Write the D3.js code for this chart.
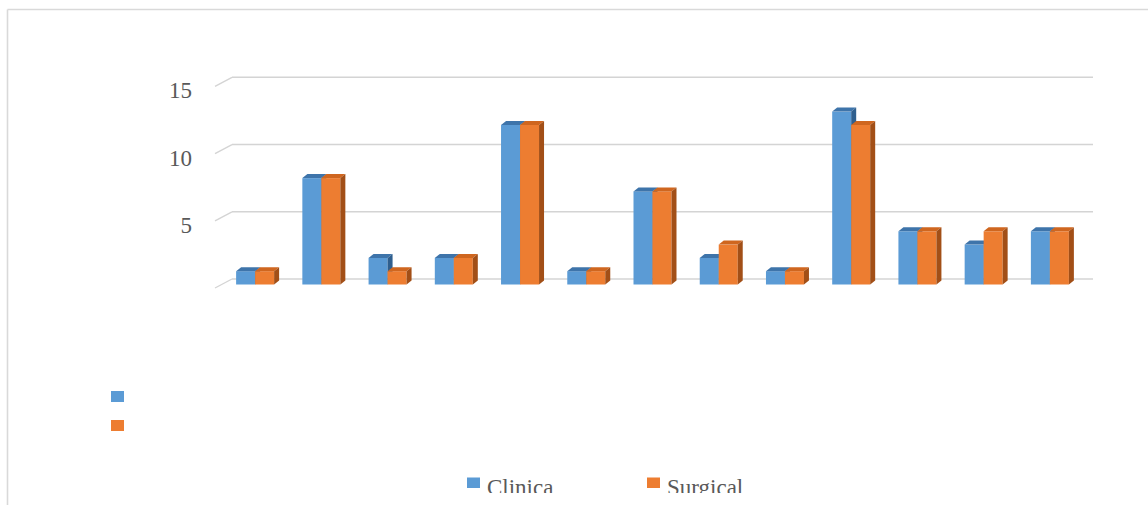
<!DOCTYPE html>
<html>
<head>
<meta charset="utf-8">
<script src="https://cdn.jsdelivr.net/npm/d3@7"></script>
<style>
  html, body { margin: 0; padding: 0; background: #fff; }
  svg { display: block; }
  text { font-family: "Liberation Serif", "Times New Roman", serif; fill: #595959; }
</style>
</head>
<body>
<svg id="chart" width="1148" height="505"></svg>
<script>
// Data
const categories = ["1", "2", "3", "4", "5", "6", "7", "8", "9", "10", "11", "12", "13"];
const seriesNames = ["Clinica", "Surgical"];
const clinica  = [1, 8, 2, 2, 12, 1, 7, 2, 1, 13, 4, 3, 4];
const surgical = [1, 8, 1, 2, 12, 1, 7, 3, 1, 12, 4, 4, 4];
const tickValues = [0, 5, 10, 15];
const tickLabels = ["", "5", "10", "15"];

const colors = {
  Clinica:  { front: "#5B9BD5", top: "#3E74AA", side: "#2F5F8E" },
  Surgical: { front: "#ED7D31", top: "#CF661F", side: "#A24F17" }
};

const svg = d3.select("#chart");

// Outer frame
svg.append("line").attr("x1", 7.5).attr("y1", 9.5).attr("x2", 1148).attr("y2", 9.5)
  .attr("stroke", "#d9d9d9").attr("stroke-width", 1.6);
svg.append("line").attr("x1", 7.5).attr("y1", 9.5).attr("x2", 7.5).attr("y2", 505)
  .attr("stroke", "#d9d9d9").attr("stroke-width", 1.6);

// Scales: back wall grid and bar faces
const yGrid = d3.scaleLinear().domain([0, 15]).range([279, 77.3]);
const yBar  = d3.scaleLinear().domain([0, 15]).range([284.5, 85]);
const depth = { dx: 17, dy: 9 };      // floor/wall oblique offset
const barDepth = { dx: 5, dy: 4 };    // bar top/side offset

const x0 = d3.scaleBand().domain(categories).range([222, 1083])
  .paddingInner(0.4263).paddingOuter(0.4263 / 2);
const x1 = d3.scaleBand().domain(seriesNames).range([0, x0.bandwidth()]);

// Gridlines on the back wall plus short diagonal to the front plane
const grid = svg.append("g");
tickValues.forEach(v => {
  const y = yGrid(v);
  grid.append("line").attr("x1", 232).attr("x2", 1093).attr("y1", y).attr("y2", y)
    .attr("stroke", "#d4d4d4").attr("stroke-width", 1.6);
  grid.append("line").attr("x1", 232 - depth.dx).attr("y1", y + depth.dy)
    .attr("x2", 232).attr("y2", y)
    .attr("stroke", "#d4d4d4").attr("stroke-width", 1.4);
});

// Y tick labels
svg.append("g").selectAll("text").data(tickValues).join("text")
  .attr("x", 192).attr("y", d => yGrid(d) + 21)
  .attr("text-anchor", "end").attr("font-size", 23)
  .text((d, i) => tickLabels[i]);

// Bars drawn as front, top and side faces
const rows = categories.map((c, i) => ({ cat: c, Clinica: clinica[i], Surgical: surgical[i] }));
const bars = svg.append("g");
rows.forEach(r => {
  seriesNames.forEach(s => {
    const x = x0(r.cat) + x1(s);
    const w = x1.bandwidth();
    const yt = yBar(r[s]);
    const yb = yBar(0);
    const c = colors[s];
    const g = bars.append("g");
    g.append("rect").attr("x", x).attr("y", yt).attr("width", w).attr("height", yb - yt)
      .attr("fill", c.front);
    g.append("path")
      .attr("d", `M${x},${yt} L${x + w},${yt} L${x + w + barDepth.dx},${yt - barDepth.dy} L${x + barDepth.dx},${yt - barDepth.dy} Z`)
      .attr("fill", c.top);
    g.append("path")
      .attr("d", `M${x + w},${yt} L${x + w + barDepth.dx},${yt - barDepth.dy} L${x + w + barDepth.dx},${yb - barDepth.dy} L${x + w},${yb} Z`)
      .attr("fill", c.side);
  });
});

// Left legend swatches
const leftLegend = svg.append("g");
seriesNames.forEach((s, i) => {
  leftLegend.append("rect").attr("x", 111).attr("y", 391 + i * 29)
    .attr("width", 13).attr("height", 11).attr("fill", colors[s].front);
});

// Bottom legend, clipped at the chart's lower edge
svg.append("clipPath").attr("id", "legendClip")
  .append("rect").attr("x", 0).attr("y", 0).attr("width", 1148).attr("height", 493);
const bottomLegend = svg.append("g").attr("clip-path", "url(#legendClip)");
const legendX = [467, 647];
seriesNames.forEach((s, i) => {
  bottomLegend.append("rect").attr("x", legendX[i]).attr("y", 477.5)
    .attr("width", 13).attr("height", 10.5).attr("fill", colors[s].front);
  bottomLegend.append("text").attr("x", legendX[i] + 20).attr("y", 494.5)
    .attr("font-size", 23).text(s);
});
</script>
</body>
</html>
